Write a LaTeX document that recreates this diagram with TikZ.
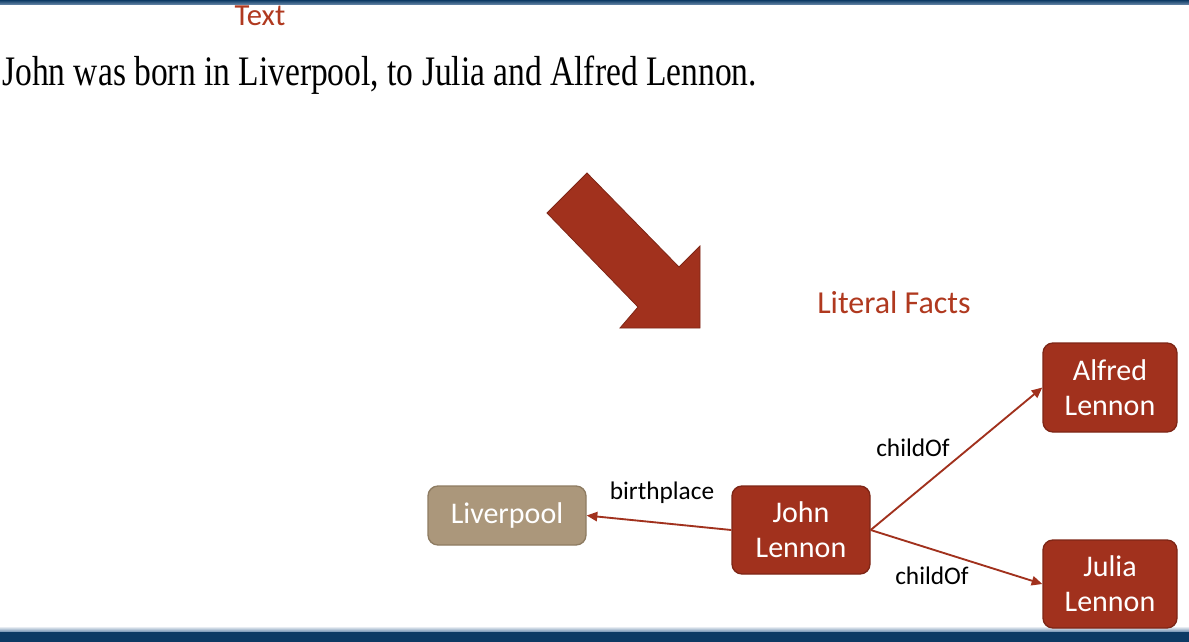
\documentclass[tikz,border=0pt]{standalone}
\usepackage{fontspec}
\setmainfont{Carlito}
\newfontfamily\serifsent{Liberation Serif}
\usetikzlibrary{arrows.meta}
\definecolor{nodered}{HTML}{A1311D}
\definecolor{noderedb}{HTML}{7E2616}
\definecolor{tanfill}{HTML}{AB977B}
\definecolor{tanborder}{HTML}{8E7C62}
\definecolor{titlered}{HTML}{B0391F}
\definecolor{navy}{HTML}{0D3A64}
\definecolor{navylight}{HTML}{6D8DAE}
\tikzset{
  x=0.75pt, y=-0.75pt,
  fact/.style={draw=noderedb, line width=1pt, fill=nodered, rounded corners=7.5pt,
    text=white, font=\fontsize{22.5}{26}\selectfont, align=center, inner sep=0pt},
  place/.style={draw=tanborder, line width=1pt, fill=tanfill, rounded corners=7.5pt,
    text=white, font=\fontsize{22.5}{26}\selectfont, align=center, inner sep=0pt},
  rel/.style={draw=nodered, line width=1.4pt, -{Triangle[length=8pt,width=7pt]}},
  lab/.style={font=\fontsize{19}{22}\selectfont, text=black, inner sep=0pt},
  heading/.style={text=titlered, inner sep=0pt},
}
\begin{document}
\begin{tikzpicture}
\useasboundingbox (0,0) rectangle (1189,642);
\fill[white] (0,0) rectangle (1189,642);
% top and bottom bars
\shade[top color=navy, bottom color=navylight] (0,0) rectangle (1189,5);
\shade[top color=white, bottom color=navylight] (0,626) rectangle (1189,632);
\fill[navy] (0,632) rectangle (1189,642);

\node[heading, font=\fontsize{23}{26}\selectfont, anchor=base] (texttitle) at (260,26) {Text};
\node[inner sep=0pt, anchor=base west] (sentence) at (2,86)
  {\resizebox{566pt}{\height}{\serifsent\fontsize{31.5}{34}\selectfont John was born in Liverpool, to Julia and Alfred Lennon.}};

% big arrow
\fill[nodered, draw=noderedb, line width=0.6pt]
  (587,173) -- (679,267) -- (700,246) -- (700,328) -- (620,328) -- (638,307) -- (547,213) -- cycle;

\node[heading, font=\fontsize{24}{28}\selectfont, anchor=base] (facts) at (894,313) {Literal Facts};

\node[place, minimum width=118.5pt, minimum height=44.25pt] (liv) at (507,515.5) {Liverpool};
\node[fact, minimum width=103.5pt, minimum height=66pt] (john) at (801,530) {John\\Lennon};
\node[fact, minimum width=100.5pt, minimum height=66.75pt] (alfred) at (1110,387.5) {Alfred\\Lennon};
\node[fact, minimum width=100.5pt, minimum height=66pt] (julia) at (1110,584) {Julia\\Lennon};

\draw[rel] (john.west) -- (liv.east);
\draw[rel] (john.east) -- (alfred.west);
\draw[rel] (john.east) -- (julia.west);

\node[lab] (lbirth) at (662,493) {birthplace};
\node[lab] (lchild1) at (913,448) {childOf};
\node[lab] (lchild2) at (932,576) {childOf};
\end{tikzpicture}
\end{document}
